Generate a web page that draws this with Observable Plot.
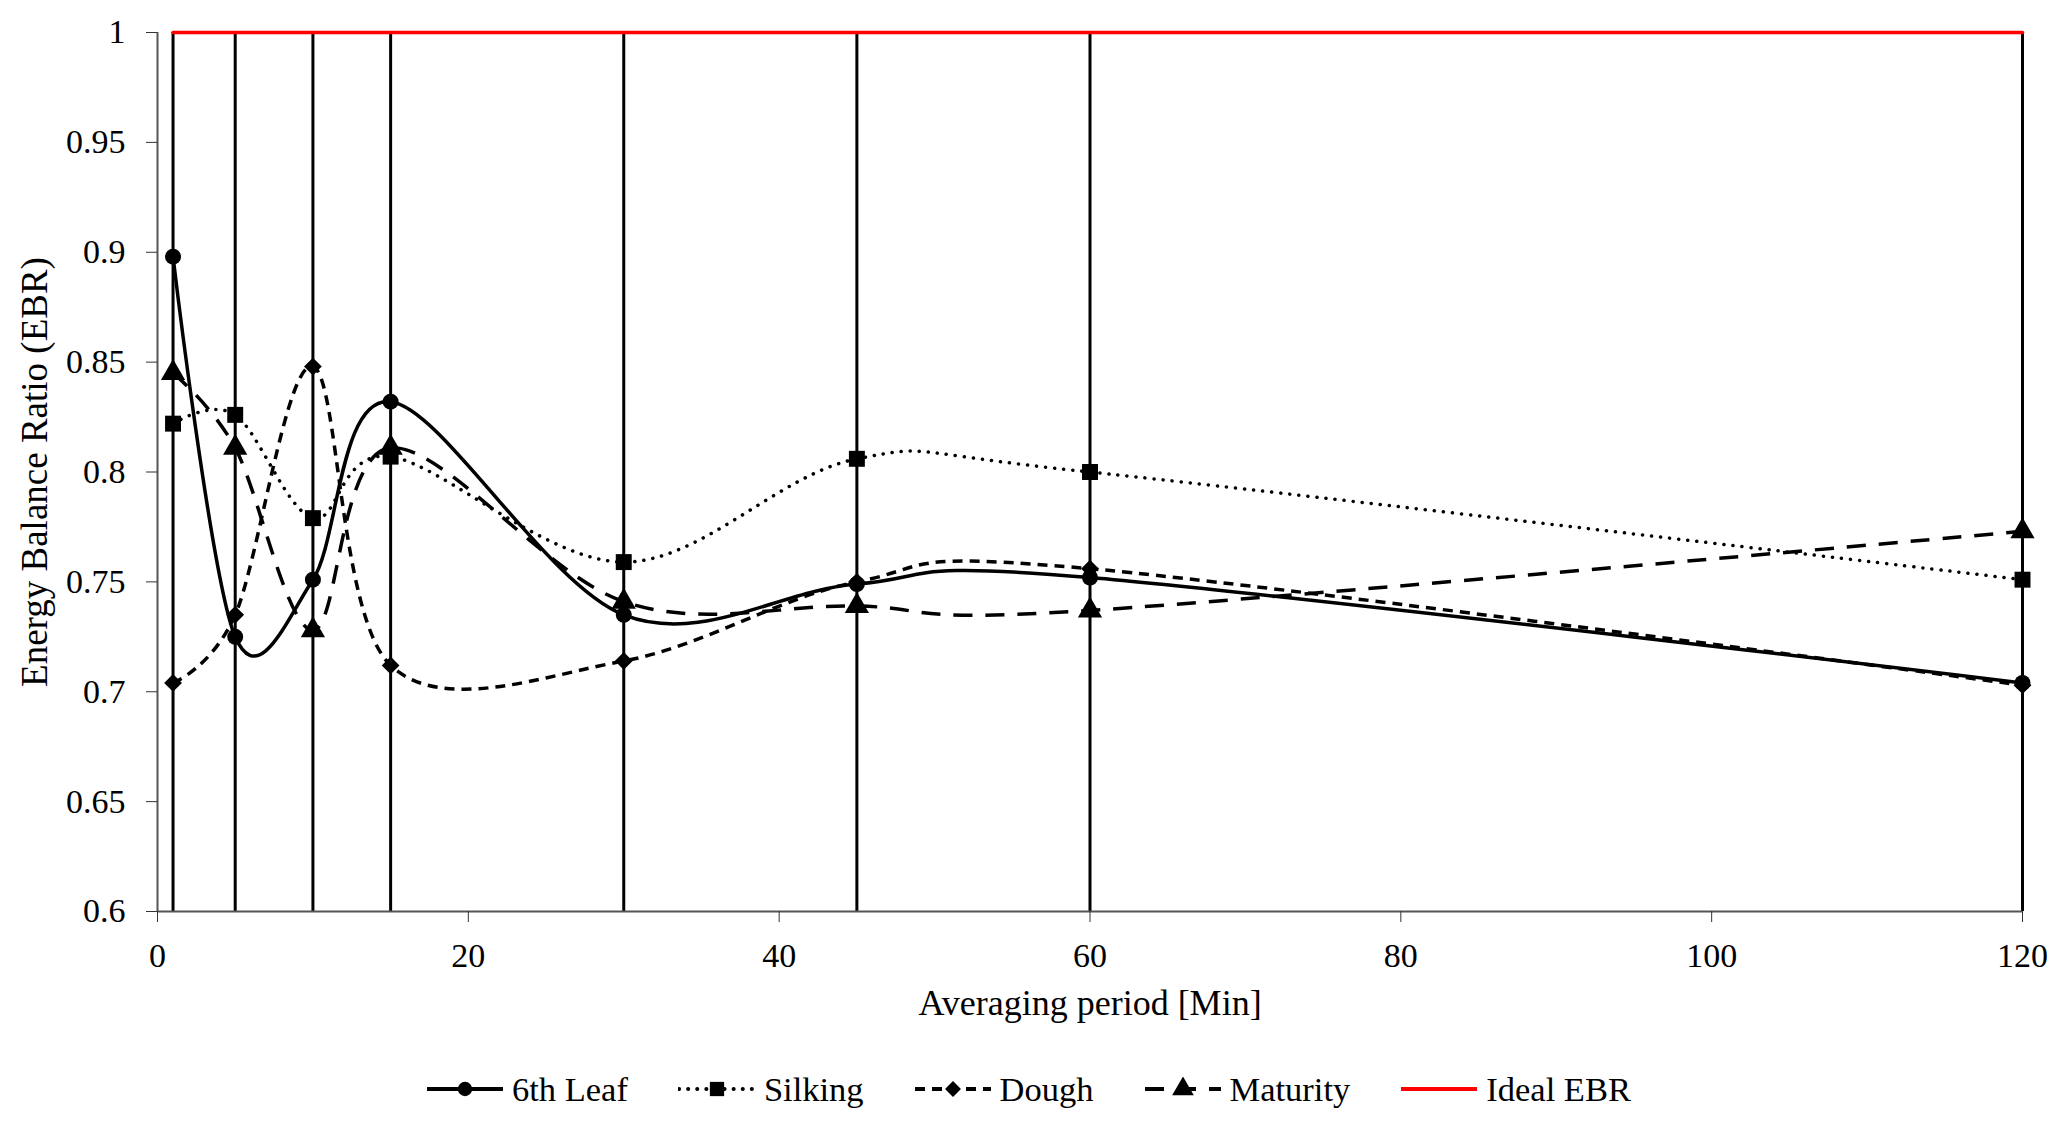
<!DOCTYPE html>
<html>
<head>
<meta charset="utf-8">
<script src="https://cdn.jsdelivr.net/npm/d3@7"></script>
<script src="https://cdn.jsdelivr.net/npm/@observablehq/plot@0.6"></script>
<style>
  body { margin: 0; background: #fff; font-family: "Liberation Serif", "Times New Roman", serif; }
  #legend { height: 78px; display: flex; align-items: center; padding-left: 426px; font-size: 34.5px; color: #000; }
  .item { display: flex; align-items: center; margin-right: 50px; }
  .item svg { margin-right: 8px; }
</style>
</head>
<body>
<div id="chart"></div>
<div id="legend"></div>
<script>
// averaging periods (min) and EBR per growth stage
const periods = [1, 5, 10, 15, 30, 45, 60, 120];
const leaf6 = [0.898, 0.725, 0.751, 0.832, 0.735, 0.749, 0.752, 0.704];
const silking = [0.822, 0.826, 0.779, 0.807, 0.759, 0.806, 0.800, 0.751];
const dough = [0.704, 0.735, 0.848, 0.712, 0.714, 0.750, 0.756, 0.703];
const maturity = [0.845, 0.811, 0.728, 0.811, 0.741, 0.739, 0.737, 0.773];
const ideal = [1, 1, 1, 1, 1, 1, 1, 1];

const seriesNames = ["6th Leaf", "Silking", "Dough", "Maturity"];
const seriesValues = [leaf6, silking, dough, maturity];
const xTicks = [0, 20, 40, 60, 80, 100, 120];
const yTicks = [0.6, 0.65, 0.7, 0.75, 0.8, 0.85, 0.9, 0.95, 1];
const yDomain = [0.6, 1];

// line look per series
const looks = {
  "6th Leaf": {dash: null, cap: "butt", symbol: "circle", r: 8},
  "Silking": {dash: "0.1,9", cap: "round", symbol: "square", r: 9},
  "Dough": {dash: "10,7", cap: "butt", symbol: "diamond2", r: 8},
  "Maturity": {dash: "19,13", cap: "butt", symbol: "triangle", r: 9}
};

const rows = seriesNames.map((name, s) =>
  periods.map((p, i) => ({period: p, ebr: seriesValues[s][i], series: name})));
const idealRows = periods.map((p, i) => ({period: p, ebr: ideal[i]}));

const marks = [
  Plot.ruleX(periods, {y1: yDomain[0], y2: yDomain[1], stroke: "#000", strokeWidth: 3}),
  Plot.ruleX([0], {stroke: "#555", strokeWidth: 2}),
  Plot.ruleY([yDomain[0]], {stroke: "#555", strokeWidth: 2}),
];
rows.forEach((data, s) => {
  const lk = looks[seriesNames[s]];
  marks.push(Plot.line(data, {
    x: "period", y: "ebr", curve: "cardinal", stroke: "#000", strokeWidth: 3.5,
    strokeDasharray: lk.dash, strokeLinecap: lk.cap
  }));
  marks.push(Plot.dot(data, {x: "period", y: "ebr", symbol: lk.symbol, r: lk.r, fill: "#000", stroke: "none"}));
});
marks.push(Plot.line(idealRows, {x: "period", y: "ebr", stroke: "#ff0000", strokeWidth: 3.5}));
marks.push(Plot.axisY({
  ticks: yTicks, tickFormat: d3.format("~g"), tickSize: 11, tickPadding: 21,
  fontSize: 34, stroke: "#333", label: null
}));
marks.push(Plot.axisY({
  ticks: [], label: "Energy Balance Ratio (EBR)", fontSize: 37,
  labelAnchor: "center", labelArrow: "none", labelOffset: 137
}));
marks.push(Plot.axisX({
  ticks: xTicks, tickSize: 11, tickPadding: 20, fontSize: 34, stroke: "#333", label: null
}));
marks.push(Plot.axisX({
  ticks: [], label: "Averaging period [Min]", fontSize: 36,
  labelAnchor: "center", labelArrow: "none", labelOffset: 103
}));

const chart = Plot.plot({
  width: 2067,
  height: 1050,
  marginTop: 32,
  marginBottom: 139,
  marginLeft: 157,
  marginRight: 45,
  style: {fontFamily: "Liberation Serif", fontSize: "34px", color: "#000", background: "#fff"},
  x: {domain: [0, 120]},
  y: {domain: yDomain},
  marks
});
d3.select("#chart").append(() => chart);

// legend
const legend = d3.select("#legend");
const legendItems = seriesNames.map(n => ({name: n, ...looks[n], color: "#000"}))
  .concat([{name: "Ideal EBR", dash: null, cap: "butt", symbol: null, color: "#ff0000"}]);
const symbolTypes = {circle: d3.symbolCircle, square: d3.symbolSquare, diamond2: d3.symbolDiamond2, triangle: d3.symbolTriangle};
legendItems.forEach(it => {
  const item = legend.append("div").attr("class", "item");
  const sw = item.append("svg").attr("width", 78).attr("height", 24);
  sw.append("line").attr("x1", 1).attr("x2", 77).attr("y1", 12).attr("y2", 12)
    .attr("stroke", it.color).attr("stroke-width", 4)
    .attr("stroke-dasharray", it.dash).attr("stroke-linecap", it.cap);
  if (it.symbol) {
    sw.append("path").attr("transform", "translate(39,12)")
      .attr("d", d3.symbol(symbolTypes[it.symbol], Math.PI * it.r * it.r * 0.8)())
      .attr("fill", "#000");
  }
  item.append("span").text(it.name);
});
</script>
</body>
</html>
